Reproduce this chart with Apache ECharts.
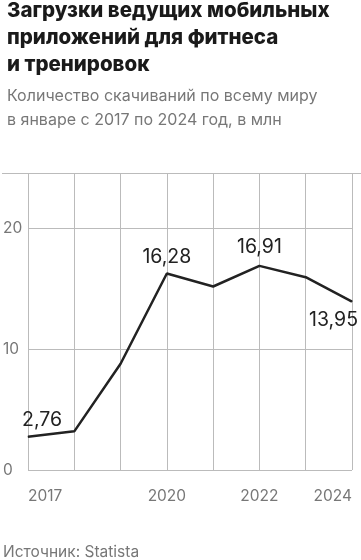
<!DOCTYPE html>
<html><head><meta charset="utf-8">
<script src="https://cdn.jsdelivr.net/npm/echarts@6/dist/echarts.min.js"></script>
<style>html,body{margin:0;padding:0;background:#fff}#c{width:361px;height:560px}</style>
</head><body><div id="c"></div>
<script>
const years = ['2017','2018','2019','2020','2021','2022','2023','2024'];
const downloads = [2.76, 3.2, 8.8, 16.28, 15.2, 16.91, 15.97, 13.95];
const labelledYears = ['2017','2020','2022','2024'];
const yTicks = [0, 10, 20];

const FONT = 'Inter';
const chart = echarts.init(document.getElementById('c'), null, {renderer:'canvas'});
const labelCfg = {
  0: {position:'top', align:'left', offset:[-6, 0], distance:6},
  3: {position:'top', distance:6},
  5: {position:'top', distance:8},
  7: {position:'bottom', align:'right', offset:[6, 0], distance:8}
};
chart.setOption({
  animation:false,
  textStyle:{fontFamily:FONT},
  title:{
    left:2, top:-8,
    text:'Загрузки ведущих мобильных\nприложений для фитнеса\nи тренировок',
    textStyle:{fontFamily:FONT, fontSize:20.5, fontWeight:800, color:'#1a1a1a', lineHeight:27},
    subtext:'Количество скачиваний по всему миру\nв январе с 2017 по 2024 год, в млн',
    subtextStyle:{fontFamily:FONT, fontSize:16, color:'#777', lineHeight:24},
    itemGap:6
  },
  graphic:[
    {type:'line', shape:{x1:2,y1:173.5,x2:361,y2:173.5}, style:{stroke:'#bbb', lineWidth:1}},
    {type:'text', left:3, top:544, style:{text:'Источник: Statista', font:'15.5px '+FONT, fill:'#777'}}
  ],
  grid:{left:28, right:9, top:173, bottom:90, containLabel:false},
  xAxis:{
    type:'category', data:years, boundaryGap:false,
    axisLine:{show:false}, axisTick:{show:false},
    splitLine:{show:true, lineStyle:{color:'#bbb', width:1}},
    axisLabel:{
      color:'#777', fontSize:15.5, fontFamily:FONT, margin:18,
      interval:0, alignMinLabel:'left', alignMaxLabel:'right',
      formatter:v=>labelledYears.includes(v)?v:''
    }
  },
  yAxis:{
    type:'value', min:0, max:24.6, interval:10,
    axisLine:{show:false}, axisTick:{show:false},
    splitLine:{show:true, lineStyle:{color:'#bbb', width:1}},
    axisLabel:{
      color:'#777', fontSize:15.5, fontFamily:FONT, align:'left', margin:25,
      formatter:v=>yTicks.includes(v)?String(v):''
    }
  },
  series:[{
    type:'line', data:downloads.map((v,i)=>({
      value:v,
      label: labelCfg[i] ? Object.assign({show:true}, labelCfg[i]) : {show:false}
    })),
    symbol:'circle', symbolSize:1, showSymbol:true,
    itemStyle:{color:'#222'},
    lineStyle:{color:'#222', width:2.5},
    label:{
      fontFamily:FONT, fontSize:19.5, color:'#222',
      formatter:p=>String(p.value).replace('.', ',')
    }
  }]
});
</script></body></html>
